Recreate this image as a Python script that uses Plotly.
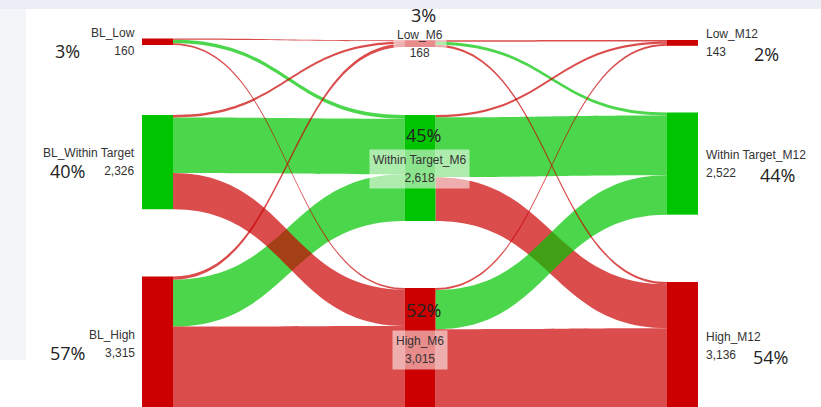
import plotly.graph_objects as go

W, H = 821, 407

# ---- data -------------------------------------------------------------
node_names = ["BL_Low", "BL_Within Target", "BL_High",
              "Low_M6", "Within Target_M6", "High_M6",
              "Low_M12", "Within Target_M12", "High_M12"]
node_totals = [160, 2326, 3315, 168, 2618, 3015, 143, 2522, 3136]
pct_labels = ["3%", "40%", "57%", "3%", "45%", "52%", "2%", "44%", "54%"]

# patient counts moving between bands (rows: from Low/Within/High, cols: to Low/Within/High)
bl_to_m6 = [[30, 90, 40],
            [60, 1370, 896],
            [78, 1158, 2079]]
m6_to_m12 = [[40, 72, 56],
             [55, 1480, 1083],
             [48, 970, 1997]]

# ---- styling ------------------------------------------------------------
RED = "#cc0000"
GREEN = "#00c400"
RED_LINK = "rgba(204,0,0,0.7)"
GREEN_LINK = "rgba(0,196,0,0.7)"
band_is_green = [False, True, False]

NODE_PAD = 86
NODE_THICK = 31
col_x_px = [157.5, 420, 682.5]
node_top_px = [38.5, 115, 276.5, 40.2, 115, 288, 40, 112.5, 282]
mid_pct_dy = [-29, -33, -39]
right_pct_x = [752, 758, 751]

# ---- links: drawing order controls which ribbon sits on top ------------
src, tgt, val, col = [], [], [], []


def add(stage, i, j, matrix):
    s = stage * 3 + i
    t = (stage + 1) * 3 + j
    src.append(s)
    tgt.append(t)
    val.append(matrix[i][j])
    col.append(GREEN_LINK if band_is_green[j] else RED_LINK)


# baseline -> month 6: green ribbons first, then reds above them
for i in range(3):
    add(0, i, 1, bl_to_m6)
add(0, 1, 2, bl_to_m6)
add(0, 2, 2, bl_to_m6)
for i, j in [(0, 0), (0, 2), (1, 0), (2, 0)]:
    add(0, i, j, bl_to_m6)

# month 6 -> month 12: large red first, greens over it
add(1, 1, 2, m6_to_m12)
for i in range(3):
    add(1, i, 1, m6_to_m12)
add(1, 2, 2, m6_to_m12)
for i, j in [(0, 0), (0, 2), (1, 0), (2, 0)]:
    add(1, i, j, m6_to_m12)

col_total = sum(node_totals[0:3])
ky = (H - 2 * NODE_PAD) / col_total
node_cy_px = [top + v * ky / 2 for top, v in zip(node_top_px, node_totals)]
node_x = [col_x_px[k // 3] / W for k in range(9)]
node_y = [cy / H for cy in node_cy_px]
node_colors = [GREEN if band_is_green[k % 3] else RED for k in range(9)]

fig = go.Figure(go.Sankey(
    domain=dict(x=[0, 1], y=[0, 1]),
    arrangement="fixed",
    node=dict(
        pad=NODE_PAD,
        thickness=NODE_THICK,
        x=node_x,
        y=node_y,
        color=node_colors,
        line=dict(width=0),
        label=[""] * 9,
        customdata=node_names,
        hovertemplate="%{customdata}<br>%{value:,}<extra></extra>",
    ),
    link=dict(source=src, target=tgt, value=val, color=col,
              hovertemplate="%{source.customdata} → %{target.customdata}"
                            "<br>%{value:,}<extra></extra>"),
))

# ---- text ------------------------------------------------------------------
LABEL_FONT = "Liberation Sans, Arial, sans-serif"
PCT_FONT = "Open Sans, Liberation Sans, sans-serif"


def px(x):
    return x / W


def py(y):
    return 1 - y / H


def two_line(name, value):
    return (f'<span style="font-size:12px">{name}</span><br>'
            f'<span style="font-size:12px">{value:,}</span>')


annotations = []
for k in range(9):
    c = k // 3
    cy = node_cy_px[k]
    txt = two_line(node_names[k], node_totals[k])
    base = dict(xref="paper", yref="paper", showarrow=False, text=txt,
                font=dict(family=LABEL_FONT, size=14, color="#333333"))
    pct = dict(xref="paper", yref="paper", showarrow=False, text=pct_labels[k],
               yanchor="middle", font=dict(family=PCT_FONT, size=18, color="#222222"))
    if c == 0:
        annotations.append(dict(base, x=px(137), y=py(cy), xanchor="right",
                                yanchor="middle", align="right"))
        annotations.append(dict(pct, x=px(67), y=py(cy + 9), xanchor="center"))
    elif c == 1:
        annotations.append(dict(base, x=px(col_x_px[1]), y=py(cy + 0.6),
                                xanchor="center", yanchor="middle", align="center",
                                bgcolor="rgba(255,255,255,0.55)", borderpad=3))
        annotations.append(dict(pct, x=px(col_x_px[1] + 4),
                                y=py(cy + mid_pct_dy[k % 3]), xanchor="center"))
    else:
        annotations.append(dict(base, x=px(704), y=py(cy), xanchor="left",
                                yanchor="middle", align="left"))
        annotations.append(dict(pct, x=px(right_pct_x[k % 3]), y=py(cy + 11),
                                xanchor="left"))

# page frame: pale band along the top and left edge
shapes = [
    dict(type="rect", xref="paper", yref="paper", x0=0, x1=1, y0=py(9), y1=1,
         fillcolor="#ebeff5", line=dict(width=0), layer="below"),
    dict(type="rect", xref="paper", yref="paper", x0=0, x1=px(26), y0=py(360), y1=py(9),
         fillcolor="#f3f6f9", line=dict(width=0), layer="below"),
]

fig.update_layout(
    width=W, height=H,
    margin=dict(l=0, r=0, t=0, b=0),
    paper_bgcolor="white",
    annotations=annotations,
    shapes=shapes,
    font=dict(family=LABEL_FONT),
)

fig.write_html("out.html")
